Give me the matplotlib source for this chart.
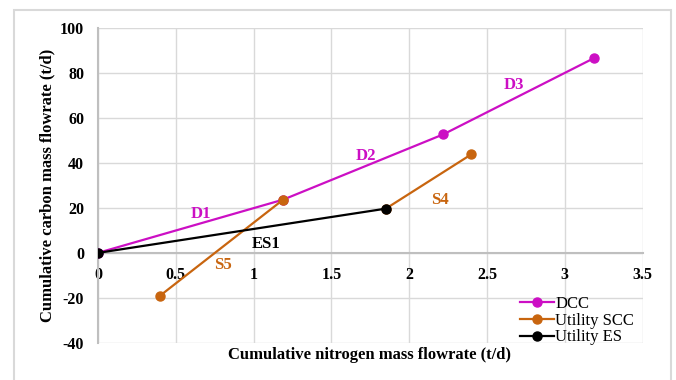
import matplotlib
matplotlib.use("Agg")
import matplotlib.pyplot as plt
from matplotlib.patches import Rectangle

# Data
dcc_x = [0, 1.19, 2.22, 3.19]
dcc_y = [0, 23.7, 52.8, 86.8]
scc_x = [0.40, 1.19, None, 1.85, 2.40]
scc_y = [-19.0, 23.7, None, 19.7, 43.9]
es_x = [0, 1.85]
es_y = [0, 19.7]
series_names = ["DCC", "Utility SCC", "Utility ES"]
seg_labels = ["D1", "D2", "D3", "S4", "S5", "ES1"]
seg_label_x = [0.664, 1.721, 2.673, 2.20, 0.80, 1.08]
seg_label_y = [17.5, 43.1, 74.6, 23.6, -5.3, 4.1]
seg_label_series = [0, 0, 0, 1, 1, 2]
x_ticks = [0, 0.5, 1, 1.5, 2, 2.5, 3, 3.5]
x_tick_labels = ["0", "0.5", "1", "1.5", "2", "2.5", "3", "3.5"]
y_ticks = [-40, -20, 0, 20, 40, 60, 80, 100]

colors = ["#CC0FC4", "#C8650F", "#000000"]

plt.rcParams['font.family'] = ['Liberation Serif', 'DejaVu Serif']
plt.rcParams['axes.unicode_minus'] = False

fig = plt.figure(figsize=(6.76, 3.8), dpi=100)
fig.patches.append(Rectangle((14/676, -0.05), (671-14)/676, 1.05 - 10/380,
                             transform=fig.transFigure, fill=False,
                             edgecolor="#d9d9d9", linewidth=1.5))
ax = fig.add_axes([98/676, (380-342.7)/380, (642.3-97.7)/676, (342.7-28.3)/380])

def clean(xs, ys):
    return ([float('nan') if v is None else v for v in xs],
            [float('nan') if v is None else v for v in ys])

lw = 1.6
ms = 6.5
ax.plot(dcc_x, dcc_y, color=colors[0], lw=lw, marker='o', ms=ms, label=series_names[0], zorder=3)
sx, sy = clean(scc_x, scc_y)
ax.plot(sx, sy, color=colors[1], lw=lw, marker='o', ms=ms, label=series_names[1], zorder=4)
ax.plot(es_x, es_y, color=colors[2], lw=lw, marker='o', ms=ms, label=series_names[2], zorder=5)

for t, x, y, s in zip(seg_labels, seg_label_x, seg_label_y, seg_label_series):
    ax.text(x, y, t, color=colors[s], fontsize=12, fontweight='bold',
            ha='center', va='center', zorder=6)

ax.set_xlim(0, 3.5)
ax.set_ylim(-40, 100)
ax.set_xticks(x_ticks)
ax.set_xticklabels(x_tick_labels)
ax.set_yticks(y_ticks)
ax.grid(True, color="#d9d9d9", lw=1.0, zorder=0)
ax.set_axisbelow(True)
for s in ['top', 'right']:
    ax.spines[s].set_visible(False)
ax.spines['bottom'].set_position(('data', 0))
ax.spines['bottom'].set_color("#bfbfbf")
ax.spines['bottom'].set_linewidth(1.5)
ax.spines['left'].set_color("#bfbfbf")
ax.spines['left'].set_linewidth(1.5)
ax.tick_params(axis='both', length=0, labelsize=11.5)
ax.tick_params(axis='x', pad=10)
ax.tick_params(axis='y', pad=10)
for lab in ax.get_xticklabels() + ax.get_yticklabels():
    lab.set_fontweight('bold')

fig.text(370/676, 1 - 355/380, "Cumulative nitrogen mass flowrate (t/d)",
         ha='center', va='center', fontsize=12, fontweight='bold')
fig.text(47/676, 1 - 185/380, "Cumulative carbon mass flowrate (t/d)",
         ha='center', va='center', rotation=90, fontsize=12, fontweight='bold')

leg = ax.legend(loc='lower right', bbox_to_anchor=(1.0, -0.035), frameon=False,
                fontsize=12, handlelength=2.0, handletextpad=0.1,
                labelspacing=0.05, borderaxespad=0.1)

fig.savefig("out.png", dpi=100)
